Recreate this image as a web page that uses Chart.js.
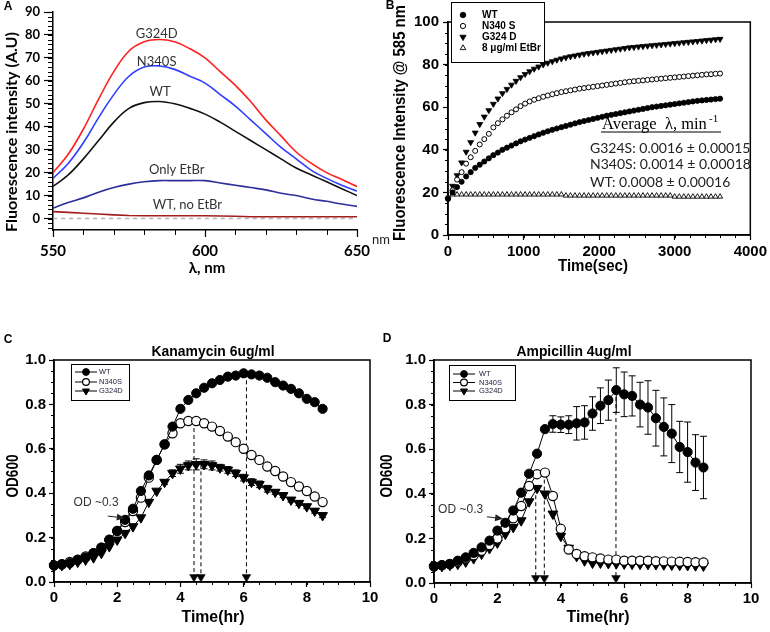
<!DOCTYPE html>
<html><head><meta charset="utf-8">
<script src="https://cdn.jsdelivr.net/npm/chart.js@4.4.1/dist/chart.umd.min.js"></script>
<style>
html,body{margin:0;padding:0;background:#fff;}
body{width:770px;height:632px;position:relative;overflow:hidden;}
canvas{position:absolute;}
</style></head><body>
<canvas id="cA" width="400" height="290" style="left:0;top:0;width:400px;height:290px"></canvas>
<canvas id="cB" width="385" height="290" style="left:385px;top:0;width:385px;height:290px"></canvas>
<canvas id="cC" width="385" height="342" style="left:0;top:290px;width:385px;height:342px"></canvas>
<canvas id="cD" width="395" height="342" style="left:375px;top:290px;width:395px;height:342px"></canvas>
<script>
// ---------------- DATA ----------------
// Panel A: emission spectra
const wavelengthsA = [550,555,560,565,570,575,580,585,590,595,600,605,610,615,620,625,630,635,640,645,650];
const g324dA   = [20,28,39,52,64,73,77,78,77,74,70,64,58,51,43,36,29,24,20,17,14];
const n340sA   = [17.5,24,33,44,54,62,66,66.5,65,62,59,54,49,43,37,31,26,21,17.5,14.5,12];
const wtA      = [14,19,26,34,42,48,50.5,51,50,48,45.5,42,38,34,30,26,22,19,16,13,10];
const onlyEtBrA= [4.5,7,9,11.5,13.5,15,16,16.5,16.5,16.5,16.5,15.5,14.5,13.5,12.5,11,10,8.5,7.5,6.3,5.3];
const wtNoEtBrA= [3,2.7,2.3,2,1.6,1.3,1.2,1.2,1.2,1.2,1.2,1.1,1.0,0.8,0.8,0.8,0.8,0.8,0.8,0.8,0.8];
const baselineXA = [550,650];
const baselineYA = [0,0];
const xTicksA = [550,600,650];
const yTicksA = [0,10,20,30,40,50,60,70,80,90];

// Panel B: kinetics (time in seconds)
const tB = [0,60,120,180,240,300,360,420,480,540,600,660,720,780,840,900,960,1020,1080,1140,1200,1260,1320,1380,1440,1500,1560,1620,1680,1740,1800,1860,1920,1980,2040,2100,2160,2220,2280,2340,2400,2460,2520,2580,2640,2700,2760,2820,2880,2940,3000,3060,3120,3180,3240,3300,3360,3420,3480,3540,3600];
const wtB = [17,20,22.5,25,27.5,29.5,31.5,33,34.5,36,37.5,38.7,40,41,42,43,44,44.8,45.6,46.4,47.2,48,48.7,49.4,50,50.6,51.2,51.8,52.4,53,53.5,54,54.5,55,55.5,56,56.4,56.8,57.2,57.6,58,58.4,58.8,59.2,59.6,60,60.3,60.6,60.9,61.2,61.5,61.8,62.1,62.4,62.7,63,63.2,63.4,63.6,63.8,64];
const n340sB = [17,21,26,29.5,33.5,36.5,39.5,42.5,45,47.5,50.5,52.5,54.3,56,57.6,59,60.5,61.7,62.7,63.5,64.2,64.9,65.5,66.1,66.6,67.1,67.5,67.9,68.3,68.7,69,69.3,69.6,69.9,70.2,70.5,70.8,71.1,71.4,71.7,72,72.2,72.4,72.6,72.8,73,73.2,73.4,73.6,73.8,74,74.2,74.4,74.6,74.8,75,75.2,75.4,75.5,75.7,75.8];
const g324dB = [17,23,28,34,39,43.5,48,52,55.5,58.5,61.5,64,66.5,68.5,70.5,72.3,74,75.5,76.8,78,79,80,80.8,81.5,82.2,82.8,83.3,83.8,84.2,84.6,85,85.3,85.6,85.9,86.2,86.5,86.8,87.1,87.4,87.7,88,88.2,88.4,88.6,88.8,89,89.2,89.4,89.6,89.8,90,90.2,90.4,90.6,90.8,91,91.2,91.4,91.6,91.8,92];
const etbrB = [18,19,19,19,19,19,19,19,19,19,19,19,19,19,19,19,19,19,19,19,19,19,19,19,19,19,18.5,18.5,18.5,18.5,18.5,18.5,18.5,18.5,18.5,18.5,18.5,18.5,18.5,18.5,18.5,18.5,18.5,18.5,18.5,18.5,18.5,18.5,18.5,18.5,18,18,18,18,18,18,18,18,18,18,18];
const xTicksB = [0,1000,2000,3000,4000];
const yTicksB = [0,20,40,60,80,100];

// Panels C & D: growth curves (time in hours)
const tHr = [0,0.25,0.5,0.75,1,1.25,1.5,1.75,2,2.25,2.5,2.75,3,3.25,3.5,3.75,4,4.25,4.5,4.75,5,5.25,5.5,5.75,6,6.25,6.5,6.75,7,7.25,7.5,7.75,8,8.25,8.5];
const wtC    = [0.075,0.08,0.085,0.1,0.11,0.13,0.155,0.19,0.23,0.28,0.33,0.41,0.48,0.55,0.62,0.70,0.78,0.82,0.85,0.875,0.895,0.91,0.925,0.93,0.94,0.935,0.93,0.92,0.90,0.885,0.87,0.85,0.825,0.81,0.78];
const n340sC = [0.075,0.08,0.09,0.1,0.115,0.13,0.155,0.19,0.23,0.27,0.32,0.38,0.47,0.55,0.62,0.67,0.715,0.725,0.725,0.715,0.70,0.68,0.655,0.63,0.60,0.572,0.55,0.52,0.50,0.475,0.45,0.43,0.41,0.385,0.36];
const g324dC = [0.07,0.075,0.08,0.09,0.10,0.11,0.13,0.16,0.19,0.22,0.25,0.29,0.36,0.41,0.45,0.49,0.51,0.525,0.53,0.53,0.525,0.515,0.505,0.49,0.47,0.45,0.44,0.42,0.405,0.39,0.37,0.355,0.34,0.32,0.30];
const g324dErrC = [0,0,0,0,0,0,0,0,0,0,0,0,0,0,0.01,0.015,0.02,0.02,0.025,0.02,0.02,0.015,0.015,0.015,0.015,0.015,0.015,0.015,0.01,0.01,0.01,0.01,0.01,0.01,0.01];
const peakTimesC = [4.43,4.65,6.09];
const peakODC = [0.725,0.53,0.94];

const wtD    = [0.075,0.08,0.085,0.1,0.115,0.135,0.16,0.19,0.235,0.27,0.325,0.405,0.49,0.58,0.69,0.713,0.71,0.71,0.716,0.72,0.76,0.795,0.82,0.865,0.846,0.839,0.80,0.787,0.739,0.70,0.67,0.61,0.587,0.54,0.518];
const wtErrD = [0,0,0,0,0,0,0,0,0,0,0,0,0,0,0.01,0.037,0.035,0.04,0.075,0.075,0.075,0.08,0.09,0.10,0.10,0.09,0.10,0.12,0.125,0.13,0.13,0.115,0.135,0.125,0.14];
const n340sD = [0.075,0.08,0.085,0.095,0.11,0.125,0.145,0.17,0.20,0.245,0.29,0.345,0.435,0.488,0.495,0.39,0.243,0.15,0.13,0.12,0.115,0.11,0.105,0.105,0.10,0.10,0.10,0.10,0.098,0.097,0.096,0.095,0.094,0.093,0.092];
const g324dD = [0.07,0.075,0.08,0.085,0.095,0.11,0.13,0.155,0.18,0.22,0.25,0.28,0.365,0.425,0.40,0.31,0.21,0.157,0.12,0.10,0.09,0.09,0.088,0.087,0.086,0.085,0.085,0.084,0.083,0.082,0.081,0.08,0.079,0.078,0.077];
const peakTimesD = [3.21,3.48,5.74];
const peakODD = [0.425,0.495,0.865];

const arrowBaseOD = 0.022;
const xTicksCD = [0,2,4,6,8,10];
const yTicksCD = [0,0.2,0.4,0.6,0.8,1.0];
const yTickLabelsCD = ['0.0','0.2','0.4','0.6','0.8','1.0'];

// ---------------- HELPERS ----------------
const pts = (xs, ys) => xs.map((x, i) => ({x, y: ys[i]}));

function drawText(ctx, t) {
  ctx.save();
  ctx.font = t.font; ctx.fillStyle = t.color || '#000';
  ctx.textAlign = t.align || 'center'; ctx.textBaseline = 'middle';
  ctx.translate(t.x, t.y);
  if (t.rot) ctx.rotate(t.rot);
  if (t.w) { const m = ctx.measureText(t.text).width; ctx.scale(t.w / m, 1); }
  ctx.fillText(t.text, 0, 0);
  ctx.restore();
}
function marker(ctx, ds, x, y, r) {
  ctx.save();
  ctx.fillStyle = ds.pointBackgroundColor; ctx.strokeStyle = ds.pointBorderColor || '#000';
  ctx.lineWidth = ds.pointBorderWidth || 1;
  Chart.helpers.drawPoint(ctx, {pointStyle: ds.pointStyle, rotation: ds.pointRotation || 0, radius: r, borderWidth: ds.pointBorderWidth || 1}, x, y);
  ctx.restore();
}
function extras(cfg) {
  return {
    id: 'extras',
    beforeDatasetsDraw(chart) {
      const ctx = chart.ctx, xs = chart.scales.x, ys = chart.scales.y;
      chart.data.datasets.forEach(ds => {
        if (!ds.errors) return;
        ctx.save(); ctx.strokeStyle = '#000'; ctx.lineWidth = 1;
        ds.data.forEach((p, j) => {
          const e = ds.errors[j]; if (!e) return;
          const x = xs.getPixelForValue(p.x), y1 = ys.getPixelForValue(p.y + e), y2 = ys.getPixelForValue(p.y - e);
          ctx.beginPath();
          ctx.moveTo(x, y1); ctx.lineTo(x, y2);
          ctx.moveTo(x - 3.5, y1); ctx.lineTo(x + 3.5, y1);
          ctx.moveTo(x - 3.5, y2); ctx.lineTo(x + 3.5, y2);
          ctx.stroke();
        });
        ctx.restore();
      });
    },
    afterDraw(chart) {
      const ctx = chart.ctx, ca = chart.chartArea, xs = chart.scales.x, ys = chart.scales.y;
      ctx.save();
      if (cfg.box) { ctx.strokeStyle = '#000'; ctx.lineWidth = cfg.box; ctx.strokeRect(ca.left, ca.top, ca.right - ca.left, ca.bottom - ca.top); }
      (cfg.minor || []).forEach(m => {
        const sc = chart.scales[m.axis];
        ctx.strokeStyle = '#000'; ctx.lineWidth = 1;
        ctx.beginPath();
        for (let v = m.from; v <= m.to + 1e-9; v += m.step) {
          const p = Math.round(sc.getPixelForValue(v)) + 0.5;
          if (m.axis === 'y') { ctx.moveTo(ca.left - m.len, p); ctx.lineTo(ca.left, p); }
          else { ctx.moveTo(p, ca.bottom); ctx.lineTo(p, ca.bottom + m.len); }
        }
        ctx.stroke();
      });
      (cfg.arrows || []).forEach(a => {
        const x1 = xs.getPixelForValue(a.from[0]), y1 = ys.getPixelForValue(a.from[1]);
        const x2 = xs.getPixelForValue(a.to[0]), y2 = ys.getPixelForValue(a.to[1]);
        const ang = Math.atan2(y2 - y1, x2 - x1);
        ctx.strokeStyle = '#222'; ctx.fillStyle = '#222'; ctx.lineWidth = 1;
        ctx.beginPath(); ctx.moveTo(x1, y1); ctx.lineTo(x2 - 6 * Math.cos(ang), y2 - 6 * Math.sin(ang)); ctx.stroke();
        ctx.beginPath(); ctx.moveTo(x2, y2);
        ctx.lineTo(x2 - 8 * Math.cos(ang) + 3.5 * Math.sin(ang), y2 - 8 * Math.sin(ang) - 3.5 * Math.cos(ang));
        ctx.lineTo(x2 - 8 * Math.cos(ang) - 3.5 * Math.sin(ang), y2 - 8 * Math.sin(ang) + 3.5 * Math.cos(ang));
        ctx.closePath(); ctx.fill();
      });
      (cfg.texts || []).forEach(t => {
        const tt = Object.assign({}, t);
        if (t.dx !== undefined) { tt.x = xs.getPixelForValue(t.dx); tt.y = ys.getPixelForValue(t.dy); }
        drawText(ctx, tt);
      });
      (cfg.lines || []).forEach(l => {
        ctx.strokeStyle = l.color || '#000'; ctx.lineWidth = l.width || 1;
        ctx.beginPath(); ctx.moveTo(l.x1, l.y1); ctx.lineTo(l.x2, l.y2); ctx.stroke();
      });
      if (cfg.legend) {
        const L = cfg.legend;
        ctx.strokeStyle = '#000'; ctx.lineWidth = L.bw || 1;
        ctx.fillStyle = '#fff'; ctx.fillRect(L.x, L.y, L.w, L.h);
        ctx.strokeRect(L.x, L.y, L.w, L.h);
        L.rows.forEach((ry, i) => {
          const ds = chart.data.datasets[i];
          if (L.line) { ctx.strokeStyle = '#000'; ctx.lineWidth = 1; ctx.beginPath(); ctx.moveTo(L.line[0], ry); ctx.lineTo(L.line[1], ry); ctx.stroke(); }
          marker(ctx, ds, L.mx, ry, L.r[i]);
          ctx.fillStyle = L.color || '#000'; ctx.font = L.font; ctx.textAlign = 'left'; ctx.textBaseline = 'middle';
          ctx.fillText(ds.label, L.tx, ry);
        });
      }
      ctx.restore();
    }
  };
}
function axisCommon(fontSpec, tickLen, pad, afterFit, ticksArr, labels) {
  return {
    type: 'linear',
    afterFit: afterFit,
    afterBuildTicks: s => { s.ticks = ticksArr.map(v => ({value: v})); },
    ticks: {font: fontSpec, color: '#000', padding: pad, maxRotation: 0, autoSkip: false,
            callback: labels ? ((v, i) => labels[i]) : (v => v)},
    grid: {drawOnChartArea: false, drawTicks: true, tickLength: tickLen, color: '#000', tickWidth: 1.2},
    border: {display: true, color: '#000', width: 1.5}
  };
}
const baseOpts = pad => ({
  animation: false, responsive: false, events: [],
  layout: {padding: pad},
  plugins: {legend: {display: false}, tooltip: {enabled: false}}
});
const SANS = 'Liberation Sans, Arial, sans-serif';
const HALF = -Math.PI / 2;

// ---------------- PANEL A ----------------
(function(){
  const lf = (d, c, extra) => Object.assign({data: d, borderColor: c, borderWidth: 1.6, pointRadius: 0, tension: 0.4, fill: false}, extra || {});
  const optsA = baseOpts({left: 0, top: 12, right: 43, bottom: 0});
  const xA = axisCommon({family: 'Lato', weight: 'bold', size: 15}, 7, 5, s => { s.height = 60; }, xTicksA);
  xA.min = 550; xA.max = 650;
  const yA = axisCommon({family: 'Lato', weight: 'bold', size: 13}, 9, 4, s => { s.width = 53; }, yTicksA);
  yA.min = -5; yA.max = 90;
  optsA.scales = {x: xA, y: yA};
  new Chart(document.getElementById('cA'), {
    type: 'line',
    data: {datasets: [
      lf(pts(wavelengthsA, g324dA), '#ff1f1f', {label: 'G324D'}),
      lf(pts(wavelengthsA, n340sA), '#2e3dff', {label: 'N340S'}),
      lf(pts(wavelengthsA, wtA), '#111111', {label: 'WT'}),
      lf(pts(wavelengthsA, onlyEtBrA), '#2b2f9c', {label: 'Only EtBr'}),
      lf(pts(wavelengthsA, wtNoEtBrA), '#a31e1e', {label: 'WT, no EtBr', tension: 0}),
      lf(pts(baselineXA, baselineYA), '#b5b5b5', {label: 'baseline', borderDash: [4, 4], borderWidth: 1.5})
    ]},
    options: optsA,
    plugins: [extras({
      minor: [{axis: 'y', from: -4, to: 90, step: 2, len: 5}, {axis: 'x', from: 550, to: 650, step: 10, len: 5}],
      texts: [
        {text: 'A', x: 8, y: 7, font: 'bold 12px ' + SANS},
        {text: 'Fluorescence intensity (A.U)', x: 12, y: 132, rot: HALF, w: 200, font: 'bold 15px Lato'},
        {text: 'λ, nm', x: 207, y: 268, font: 'bold 15px Lato'},
        {text: 'nm', x: 381, y: 240, font: '13px Lato', color: '#222'},
        {text: 'G324D', dx: 584.1, dy: 80.7, font: '13px Lato', color: '#333'},
        {text: 'N340S', dx: 584.1, dy: 68.3, font: '13px Lato', color: '#333'},
        {text: 'WT', dx: 585.2, dy: 55.3, font: '13px Lato', color: '#333'},
        {text: 'Only EtBr', dx: 590.7, dy: 21.1, font: '13px Lato', color: '#333'},
        {text: 'WT, no EtBr', dx: 594.2, dy: 5.9, font: '13px Lato', color: '#333'}
      ]
    })]
  });
})();

// ---------------- PANEL B ----------------
(function(){
  const optsB = baseOpts({left: 0, top: 22, right: 19, bottom: 0});
  const xB = axisCommon({family: SANS, weight: 'bold', size: 15}, 5, 3, s => { s.height = 55; }, xTicksB);
  xB.min = 0; xB.max = 4000;
  const yB = axisCommon({family: SANS, weight: 'bold', size: 15}, 5, 4, s => { s.width = 63; }, yTicksB);
  yB.min = 0; yB.max = 100;
  optsB.scales = {x: xB, y: yB};
  const sc = (label, d, style, rot, r, bg, bw) => ({label, data: d, showLine: false, pointStyle: style, pointRotation: rot,
    pointRadius: r, pointBackgroundColor: bg, pointBorderColor: '#000', pointBorderWidth: bw, clip: false});
  new Chart(document.getElementById('cB'), {
    type: 'line',
    data: {datasets: [
      sc('WT', pts(tB, wtB), 'circle', 0, 2.6, '#000', 0.8),
      sc('N340 S', pts(tB, n340sB), 'circle', 0, 2.5, '#fff', 1),
      sc('G324 D', pts(tB, g324dB), 'triangle', 180, 3.4, '#000', 0.8),
      sc('8 μg/ml EtBr', pts(tB, etbrB), 'triangle', 0, 3, '#fff', 0.9)
    ]},
    options: optsB,
    plugins: [extras({
      box: 1.5,
      minor: [{axis: 'y', from: 0, to: 100, step: 5, len: 3}, {axis: 'x', from: 0, to: 4000, step: 200, len: 3}],
      texts: [
        {text: 'B', x: 5, y: 6, font: 'bold 12px ' + SANS},
        {text: 'Fluorescence Intensity @ 585 nm', x: 16, y: 123, rot: HALF, w: 236, font: 'bold 16px ' + SANS},
        {text: 'Time(sec)', x: 208, y: 267, w: 70, font: 'bold 16px ' + SANS},
        {text: 'Average  λ, min', x: 217, y: 125, align: 'left', font: '16.5px "Liberation Serif", serif'},
        {text: '-1', x: 324, y: 119, align: 'left', font: '11px "Liberation Serif", serif'},
        {text: 'G324S: 0.0016 ± 0.00015', x: 205, y: 148, align: 'left', font: '14px Lato', color: '#222'},
        {text: 'N340S: 0.0014 ± 0.00018', x: 205, y: 164, align: 'left', font: '14px Lato', color: '#222'},
        {text: 'WT: 0.0008 ± 0.00016', x: 205, y: 182, align: 'left', font: '14px Lato', color: '#222'}
      ],
      lines: [{x1: 216, y1: 132, x2: 336, y2: 132, width: 1}],
      legend: {x: 66.5, y: 2.5, w: 93, h: 60, rows: [15, 26, 37, 48], mx: 78, tx: 97, r: [2.8, 2.6, 3.6, 3.2],
               font: 'bold 10px ' + SANS}
    })]
  });
})();

// ---------------- PANELS C & D ----------------
function growthChart(id, pad, yW, xH, series, errsIdx, errs, peakT, peakV, cfg) {
  const opts = baseOpts(pad);
  const x = axisCommon({family: SANS, weight: 'bold', size: 15}, 5, 2, s => { s.height = xH; }, xTicksCD);
  x.min = 0; x.max = 10;
  const y = axisCommon({family: SANS, weight: 'bold', size: 15}, 5, 3, s => { s.width = yW; }, yTicksCD, yTickLabelsCD);
  y.min = 0; y.max = 1;
  opts.scales = {x, y};
  const styles = [
    {pointStyle: 'circle', pointRotation: 0, pointRadius: 4.6, pointBackgroundColor: '#000', pointBorderWidth: 1},
    {pointStyle: 'circle', pointRotation: 0, pointRadius: 4.6, pointBackgroundColor: '#fff', pointBorderWidth: 1.2},
    {pointStyle: 'triangle', pointRotation: 180, pointRadius: 5.6, pointBackgroundColor: '#000', pointBorderWidth: 1}
  ];
  const datasets = series.map((s, i) => Object.assign({label: s.label, data: pts(tHr, s.y), borderColor: '#000', borderWidth: 1,
    pointBorderColor: '#000', tension: 0, clip: false, errors: i === errsIdx ? errs : undefined}, styles[i]));
  peakT.forEach((t, i) => datasets.push({label: 'peak' + i, data: pts([t, t], [peakV[i], arrowBaseOD]),
    borderColor: '#000', borderWidth: 1, borderDash: [4, 3], pointRadius: [0, 5], pointStyle: 'triangle',
    pointRotation: 180, pointBackgroundColor: '#000', pointBorderColor: '#000', pointBorderWidth: 0.5, clip: false}));
  new Chart(document.getElementById(id), {type: 'line', data: {datasets}, options: opts, plugins: [extras(cfg)]});
}

growthChart('cC', {left: 0, top: 70, right: 15, bottom: 0}, 54, 50,
  [{label: 'WT', y: wtC}, {label: 'N340S', y: n340sC}, {label: 'G324D', y: g324dC}], 2, g324dErrC, peakTimesC, peakODC, {
    box: 1.5,
    minor: [{axis: 'y', from: 0, to: 1, step: 0.05, len: 3}, {axis: 'x', from: 0, to: 10, step: 0.5, len: 3}],
    arrows: [{from: [1.70, 0.297], to: [2.24, 0.288]}],
    texts: [
      {text: 'C', x: 8, y: 50, font: 'bold 12px ' + SANS},
      {text: 'Kanamycin 6ug/ml', x: 213, y: 62, w: 123, font: 'bold 15px ' + SANS},
      {text: 'OD600', x: 14, y: 186, rot: HALF, w: 43, font: 'bold 16px ' + SANS},
      {text: 'Time(hr)', x: 213, y: 328, w: 63, font: 'bold 16px ' + SANS},
      {text: 'OD ~0.3', dx: 0.62, dy: 0.356, align: 'left', font: '12px ' + SANS, color: '#333'}
    ],
    legend: {x: 71.5, y: 74.5, w: 58, h: 36, rows: [82, 92, 101], line: [75, 97], mx: 86, tx: 99, r: [3.4, 3.4, 4],
             font: '7.5px ' + SANS, color: '#1c1c3a'}
  });

growthChart('cD', {left: 0, top: 70, right: 19, bottom: 0}, 59, 49,
  [{label: 'WT', y: wtD}, {label: 'N340S', y: n340sD}, {label: 'G324D', y: g324dD}], 0, wtErrD, peakTimesD, peakODD, {
    box: 1.5,
    minor: [{axis: 'y', from: 0, to: 1, step: 0.05, len: 3}, {axis: 'x', from: 0, to: 10, step: 0.5, len: 3}],
    arrows: [{from: [1.67, 0.297], to: [2.18, 0.288]}],
    texts: [
      {text: 'D', x: 12, y: 49, font: 'bold 12px ' + SANS},
      {text: 'Ampicillin 4ug/ml', x: 199, y: 62, w: 115, font: 'bold 15px ' + SANS},
      {text: 'OD600', x: 13, y: 186, rot: HALF, w: 43, font: 'bold 16px ' + SANS},
      {text: 'Time(hr)', x: 223, y: 328, w: 63, font: 'bold 16px ' + SANS},
      {text: 'OD ~0.3', dx: 0.13, dy: 0.328, align: 'left', font: '12px ' + SANS, color: '#333'}
    ],
    legend: {x: 74.5, y: 75.5, w: 66, h: 35, rows: [84, 92.5, 101], line: [78, 100], mx: 89, tx: 104, r: [3.4, 3.4, 4],
             font: '7.5px ' + SANS, color: '#1c1c3a'}
  });
</script>
</body></html>
